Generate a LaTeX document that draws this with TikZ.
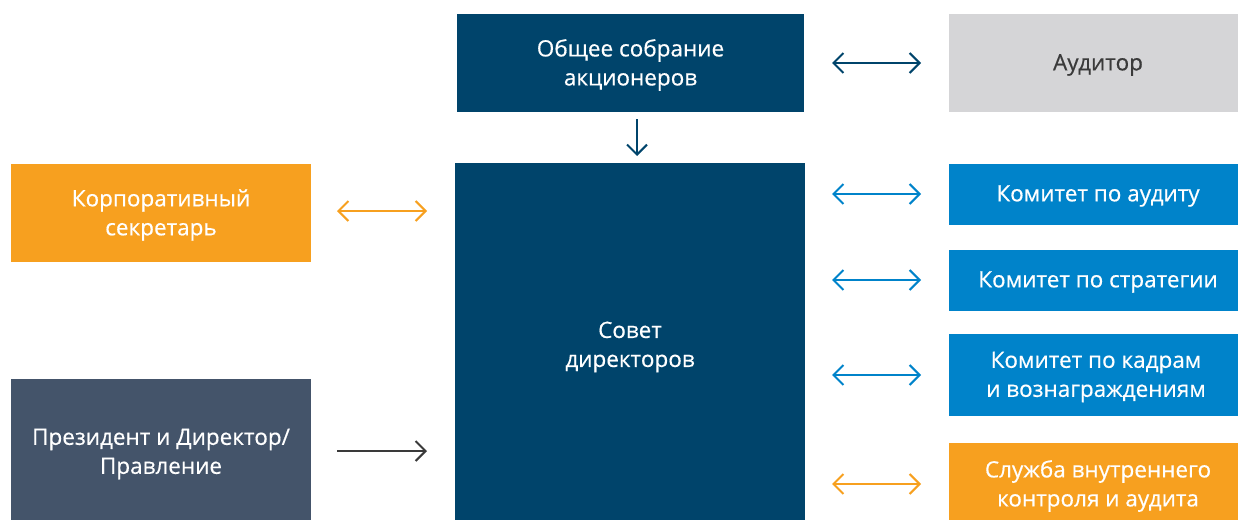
\documentclass[tikz,border=0pt]{standalone}
\usepackage{fontspec}
\setmainfont{Open Sans}
\newfontfamily\medf{Open Sans}[FakeBold=0.5]
\usetikzlibrary{arrows.meta}
\definecolor{navy}{HTML}{00446B}
\definecolor{greyb}{HTML}{D5D5D7}
\definecolor{orangeb}{HTML}{F7A01F}
\definecolor{slateb}{HTML}{44546A}
\definecolor{blueb}{HTML}{0083CA}
\definecolor{txtdark}{HTML}{3A3A3A}
\tikzset{
  box/.style={draw=none, inner sep=0pt, align=center, text=white, font=\medf\fontsize{22.5}{29}\selectfont},
  conn/.style={line width=2pt, {Straight Barb[length=10pt,width=20pt]}-{Straight Barb[length=10pt,width=20pt]}},
  oneway/.style={line width=2pt, -{Straight Barb[length=10pt,width=20pt]}}
}
\begin{document}
\begin{tikzpicture}[x=1pt,y=-1pt]
\useasboundingbox (0,0) rectangle (1238,520);
% boxes
\fill[navy] (457,14) rectangle (804,112);
\node[box] (gm) at (630.5,65) {Общее собрание\\акционеров};
\fill[greyb] (949,14) rectangle (1238,112);
\node[box,text=txtdark] (aud) at (1098,65) {Аудитор};
\fill[navy] (455,163) rectangle (805,520);
\node[box] (bd) at (630,347) {Совет\\директоров};
\fill[orangeb] (11,164) rectangle (311,262);
\node[box] (cs) at (161,215) {Корпоративный\\секретарь};
\fill[slateb] (11,379) rectangle (311,520);
\node[box] (pr) at (161,454) {Президент и Директор/\\Правление};
\fill[blueb] (949,164) rectangle (1238,225);
\node[box] (ca) at (1098,196) {Комитет по аудиту};
\fill[blueb] (949,250) rectangle (1238,311);
\node[box] (cst) at (1098,282) {Комитет по стратегии};
\fill[blueb] (949,334) rectangle (1238,416);
\node[box] (ck) at (1096,377) {Комитет по кадрам\\и вознаграждениям};
\fill[orangeb] (949,443) rectangle (1238,520);
\node[box] (sv) at (1098,486) {Служба внутреннего\\контроля и аудита};
% connector endpoints
\coordinate (a1l) at (832,63); \coordinate (a1r) at (921,63);
\coordinate (dt) at (637,119); \coordinate (db) at (637,156);
\coordinate (a2l) at (337,211); \coordinate (a2r) at (427,211);
\coordinate (a3l) at (337,451); \coordinate (a3r) at (427,451);
\coordinate (b1l) at (832,194); \coordinate (b1r) at (921,194);
\coordinate (b2l) at (832,280); \coordinate (b2r) at (921,280);
\coordinate (b3l) at (832,375); \coordinate (b3r) at (921,375);
\coordinate (b4l) at (832,484); \coordinate (b4r) at (921,484);
\draw[conn,navy] (a1l) -- (a1r);
\draw[oneway,navy] (dt) -- (db);
\draw[conn,orangeb] (a2l) -- (a2r);
\draw[oneway,txtdark] (a3l) -- (a3r);
\draw[conn,blueb] (b1l) -- (b1r);
\draw[conn,blueb] (b2l) -- (b2r);
\draw[conn,blueb] (b3l) -- (b3r);
\draw[conn,orangeb] (b4l) -- (b4r);
\end{tikzpicture}
\end{document}
